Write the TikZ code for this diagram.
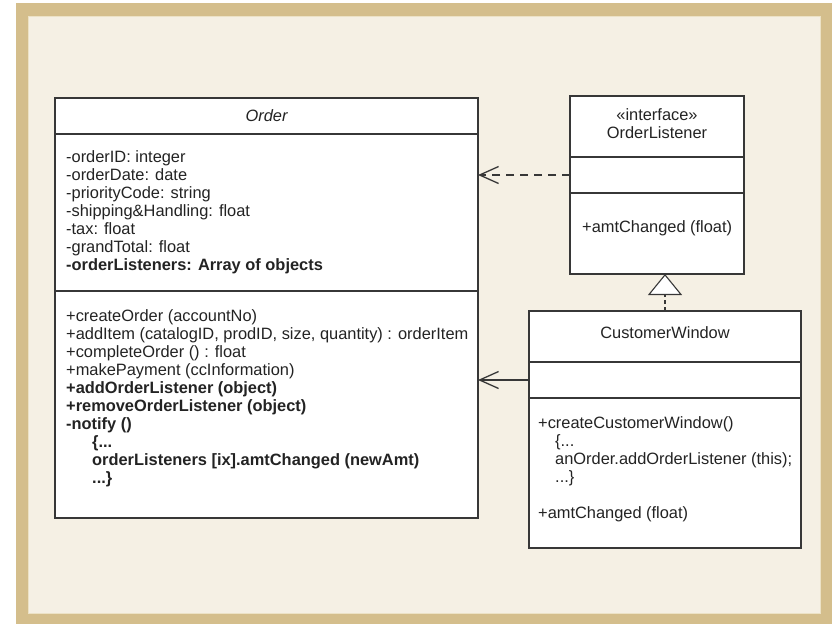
\documentclass[tikz,border=0pt]{standalone}
\usepackage{fontspec}
\setmainfont{Liberation Sans}
\usetikzlibrary{arrows.meta,calc}
\definecolor{frametan}{RGB}{212,190,140}
\definecolor{framecream}{RGB}{245,240,228}
\definecolor{framehi}{RGB}{236,226,198}
\definecolor{umlline}{RGB}{55,55,55}
\definecolor{umltext}{RGB}{35,35,35}
\begin{document}
\begin{tikzpicture}[x=1pt,y=-1pt,
  compartment/.style={draw=umlline, line width=1.3pt, fill=white, rectangle,
    inner sep=0pt, outer sep=0pt, anchor=north west},
  umlfont/.style={font=\fontsize{16.4}{18}\selectfont, text=umltext},
  umltxt/.style={umlfont, inner sep=0pt, align=left, anchor=north west},
  headtxt/.style={umlfont, inner sep=0pt, align=center, anchor=north},
  dependency/.style={draw=umlline, line width=1.3pt, dash pattern=on 8pt off 6pt,
    -{Straight Barb[length=19pt,width=17pt]}},
  association/.style={draw=umlline, line width=1.3pt,
    -{Straight Barb[length=19pt,width=17pt]}},
  realization/.style={draw=umlline, line width=1.1pt, dash pattern=on 4pt off 3pt,
    -{Triangle[length=21pt,width=34pt,fill=white,line join=miter]}}]

% frame
\useasboundingbox (0,0) rectangle (832,624);
\fill[white] (0,0) rectangle (832,624);
\fill[frametan] (16,3) rectangle (832,624);
\fill[framecream] (29,17) rectangle (820,613);
\draw[framehi, line width=1.2pt] (28.4,16.4) rectangle (820.6,613.6);

% class Order
\node[compartment, umlfont, minimum width=423pt, minimum height=36pt] (ordhead) at (55,98) {\itshape Order};
\node[compartment, minimum width=423pt, minimum height=157pt] (ordattr) at (55,134) {};
\node[compartment, minimum width=423pt, minimum height=227pt] (ordops) at (55,291) {};
\node[umltxt] (ordattrtxt) at ($(ordattr.north west)+(11,16)$) {\rule{0pt}{12pt}-orderID: integer\\
-orderDate: date\\
-priorityCode: string\\
-shipping\&Handling: float\\
-tax: float\\
-grandTotal: float\\
\textbf{-orderListeners: Array of objects}};
\node[umltxt] (ordopstxt) at ($(ordops.north west)+(11,18)$) {\rule{0pt}{12pt}+createOrder (accountNo)\\
+addItem (catalogID, prodID, size, quantity) : orderItem\\
+completeOrder () : float\\
+makePayment (ccInformation)\\
\textbf{+addOrderListener (object)}\\
\textbf{+removeOrderListener (object)}\\
\textbf{-notify ()}\\
\hspace*{26pt}\textbf{\{...}\\
\hspace*{26pt}\textbf{orderListeners [ix].amtChanged (newAmt)}\\
\hspace*{26pt}\textbf{...\}}};

% interface OrderListener
\node[compartment, minimum width=174pt, minimum height=61pt] (olhead) at (570,96) {};
\node[compartment, minimum width=174pt, minimum height=36pt] (olattr) at (570,157) {};
\node[compartment, minimum width=174pt, minimum height=81pt] (olops) at (570,193) {};
\node[headtxt] (olheadtxt) at ($(olhead.north)+(0,12)$) {\rule{0pt}{12pt}«interface»\\OrderListener};
\node[umltxt] (olopstxt) at ($(olops.north west)+(12,27)$) {\rule{0pt}{12pt}+amtChanged (float)};

% class CustomerWindow
\node[compartment, minimum width=272pt, minimum height=51pt] (cwhead) at (529,311) {};
\node[compartment, minimum width=272pt, minimum height=36pt] (cwattr) at (529,362) {};
\node[compartment, minimum width=272pt, minimum height=150pt] (cwops) at (529,398) {};
\node[headtxt] (cwheadtxt) at ($(cwhead.north)+(0,15)$) {\rule{0pt}{12pt}CustomerWindow};
\node[umltxt] (cwopstxt) at ($(cwops.north west)+(9,18)$) {\rule{0pt}{12pt}+createCustomerWindow()\\
\hspace*{17pt}\{...\\
\hspace*{17pt}anOrder.addOrderListener (this);\\
\hspace*{17pt}...\}\\[18pt]
+amtChanged (float)};

% relationships
\draw[dependency] (olattr.west) -- (olattr.west -| ordattr.east);
\draw[association] (cwattr.west) -- (cwattr.west -| ordops.east);
\draw[realization] (cwhead.north) -- (cwhead.north |- olops.south);
\end{tikzpicture}
\end{document}
